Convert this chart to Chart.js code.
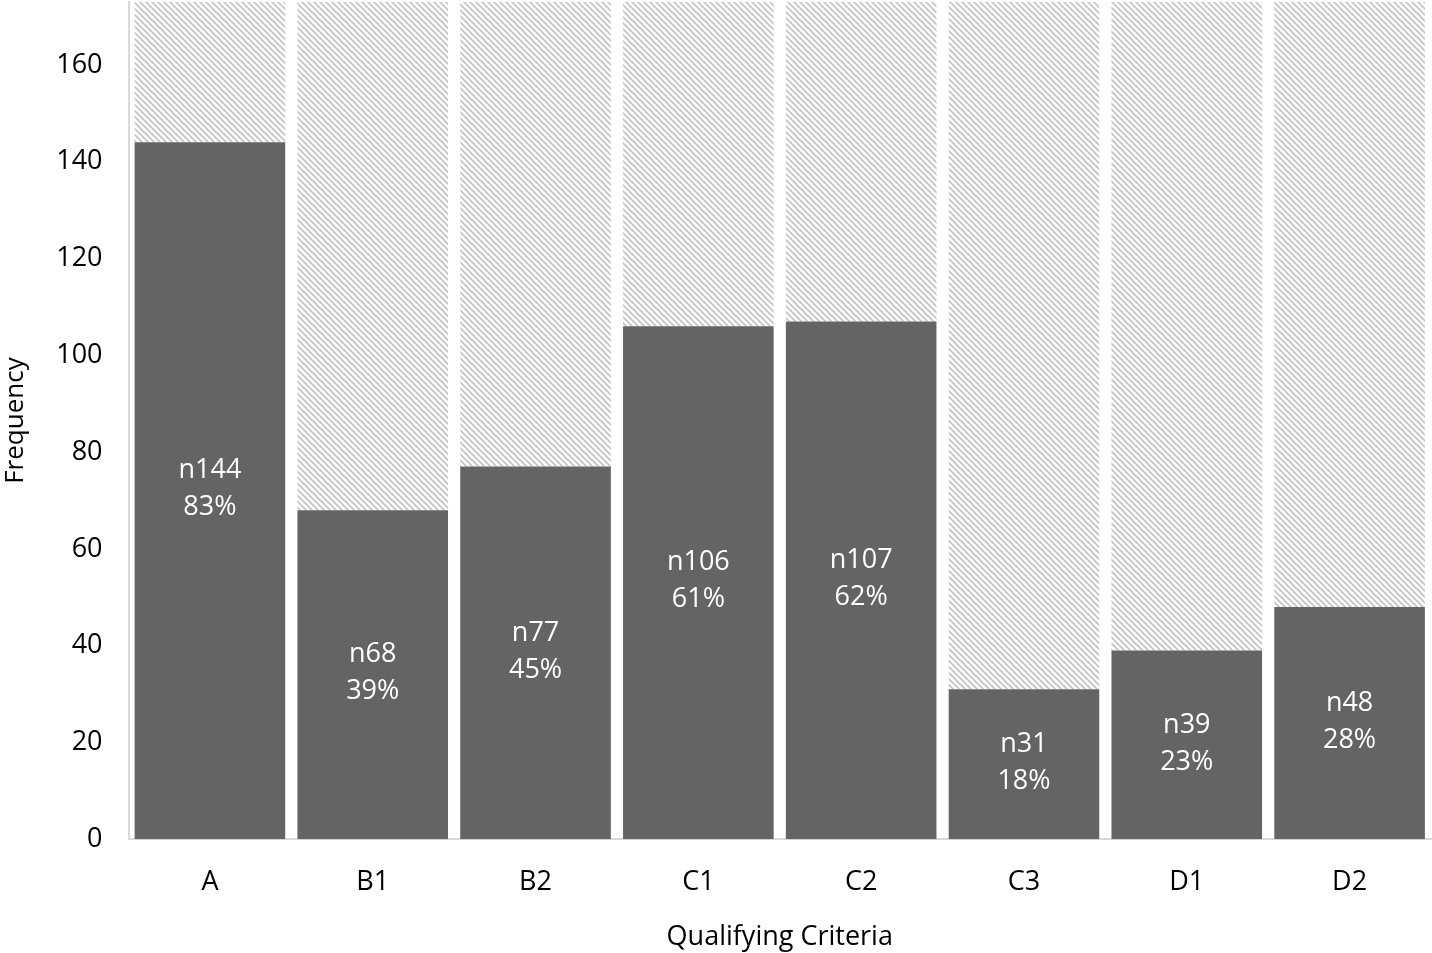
<!DOCTYPE html>
<html lang="en">
<head>
<meta charset="UTF-8">
<title>Qualifying Criteria</title>
<script src="https://cdn.jsdelivr.net/npm/chart.js"></script>
<style>
  html, body { margin: 0; padding: 0; background: #ffffff; }
  #wrap { width: 1432px; height: 953px; }
</style>
</head>
<body>
<div id="wrap"><canvas id="grafico"></canvas></div>
<script>
// dados
const criterios = ["A", "B1", "B2", "C1", "C2", "C3", "D1", "D2"];
const contagens = [144, 68, 77, 106, 107, 31, 39, 48];
const percentuais = ["83%", "39%", "45%", "61%", "62%", "18%", "23%", "28%"];
const restantes = [29, 105, 96, 67, 66, 142, 134, 125];
const ticksY = [0, 20, 40, 60, 80, 100, 120, 140, 160];

const fonte = "'Open Sans', 'Liberation Sans', sans-serif";

// padrao hachurado (linhas diagonais cinza)
function criarHachura() {
  const c = document.createElement('canvas');
  c.width = 6; c.height = 6;
  const g = c.getContext('2d');
  g.fillStyle = '#ffffff';
  g.fillRect(0, 0, 6, 6);
  g.strokeStyle = '#c4c4c4';
  g.lineWidth = 1.7;
  g.beginPath();
  g.moveTo(-1, -1); g.lineTo(7, 7);
  g.moveTo(-4, 2); g.lineTo(2, 8);
  g.moveTo(4, -2); g.lineTo(8, 2);
  g.stroke();
  return g.createPattern(c, 'repeat');
}

// escreve n / % no meio da barra escura
const rotulos = {
  id: 'rotulos',
  afterDatasetsDraw(chart) {
    const ctx = chart.ctx;
    const meta = chart.getDatasetMeta(0);
    ctx.save();
    ctx.fillStyle = '#ffffff';
    ctx.font = "27px " + fonte;
    ctx.textAlign = 'center';
    ctx.textBaseline = 'middle';
    meta.data.forEach(function (barra, i) {
      const meio = (barra.y + barra.base) / 2;
      ctx.fillText('n' + contagens[i], barra.x, meio - 20);
      ctx.fillText(percentuais[i], barra.x, meio + 17);
    });
    ctx.restore();
  }
};

const config = {
  type: 'bar',
  data: {
    labels: criterios,
    datasets: [
      {
        label: 'Frequency',
        data: contagens,
        backgroundColor: '#646464',
        borderWidth: 0,
        categoryPercentage: 1.0,
        barPercentage: 0.925
      },
      {
        label: 'Restante',
        data: restantes,
        backgroundColor: criarHachura(),
        borderWidth: 0,
        categoryPercentage: 1.0,
        barPercentage: 0.925
      }
    ]
  },
  options: {
    responsive: true,
    maintainAspectRatio: false,
    animation: false,
    layout: { padding: { top: 2, right: 1, bottom: -1, left: 0 } },
    plugins: {
      legend: { display: false },
      tooltip: { enabled: false }
    },
    scales: {
      x: {
        stacked: true,
        afterFit(scale) {
          scale.paddingLeft = 0;
          scale.paddingRight = 0;
        },
        grid: { display: false, drawTicks: false },
        border: { display: true, color: '#d9d9d9', width: 2 },
        ticks: { color: '#000000', font: { family: fonte, size: 27 }, padding: 27 },
        title: {
          display: true,
          text: 'Qualifying Criteria',
          color: '#000000',
          font: { family: fonte, size: 27 },
          padding: { top: -4, bottom: 0 }
        }
      },
      y: {
        stacked: true,
        min: 0,
        max: 173,
        afterBuildTicks(scale) {
          scale.ticks = ticksY.map(function (v) { return { value: v }; });
        },
        afterFit(scale) {
          scale.paddingTop = 0;
          scale.paddingBottom = 0;
        },
        grid: { display: false, drawTicks: false },
        border: { display: true, color: '#d9d9d9', width: 2 },
        ticks: { color: '#000000', font: { family: fonte, size: 27 }, padding: 26 },
        title: {
          display: true,
          text: 'Frequency',
          color: '#000000',
          font: { family: fonte, size: 26 },
          padding: { top: 0, bottom: -1 }
        }
      }
    }
  },
  plugins: [rotulos]
};

new Chart(document.getElementById('grafico'), config);
</script>
</body>
</html>
